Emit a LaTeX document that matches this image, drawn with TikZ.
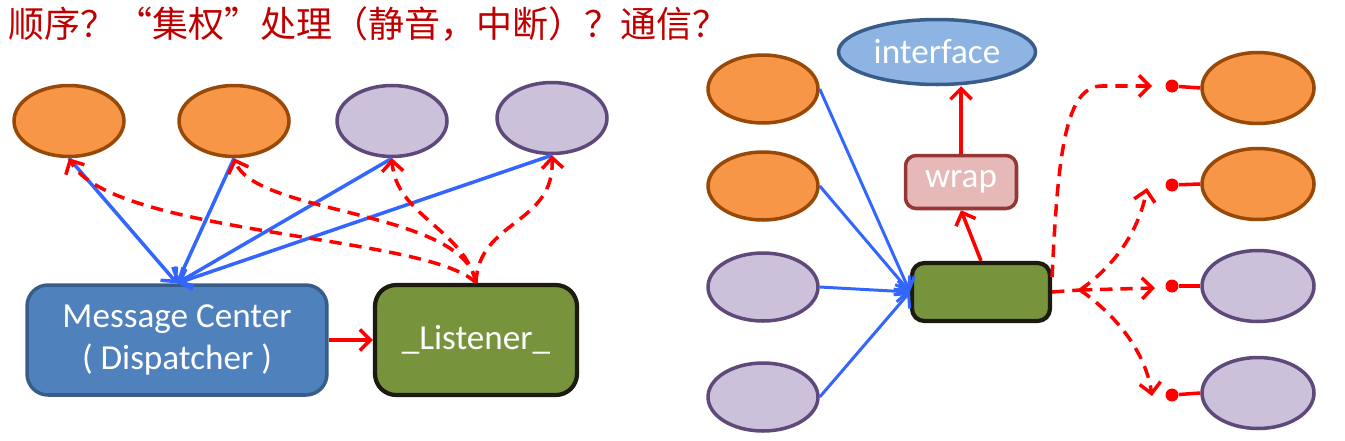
\documentclass[tikz,border=0pt]{standalone}
\usepackage{fontspec}
\setmainfont{Carlito}
\newfontfamily\cjkfont{Noto Sans CJK SC}
\usetikzlibrary{arrows.meta,positioning,shapes.geometric}

\definecolor{orangefill}{HTML}{F79646}
\definecolor{orangedraw}{HTML}{984807}
\definecolor{lilacfill}{HTML}{CCC1DA}
\definecolor{lilacdraw}{HTML}{5F497A}
\definecolor{centerfill}{HTML}{4F81BD}
\definecolor{centerdraw}{HTML}{385D8A}
\definecolor{greenfill}{HTML}{77933C}
\definecolor{greendraw}{HTML}{1D1B10}
\definecolor{wrapfill}{HTML}{E6B9B8}
\definecolor{wrapdraw}{HTML}{953735}
\definecolor{ifacefill}{HTML}{8EB4E3}
\definecolor{linkblue}{HTML}{3366FF}
\definecolor{titlered}{HTML}{C00000}

\begin{document}
\begin{tikzpicture}[
    x=0.02cm, y=-0.02cm,
    every node/.style={font=\fontsize{20}{24}\selectfont, text=white},
    blob/.style={ellipse, draw, line width=2pt, inner sep=0pt,
      minimum width=2.2cm, minimum height=1.42cm},
    orangeblob/.style={blob, fill=orangefill, draw=orangedraw},
    lilacblob/.style={blob, fill=lilacfill, draw=lilacdraw},
    boxnode/.style={rectangle, rounded corners=8pt, line width=2pt, align=center},
    dot/.style={circle, fill=red, inner sep=0pt, minimum size=0.26cm},
    bluearr/.style={-{Straight Barb[length=6pt,width=12pt]}, line width=2pt, linkblue},
    redarr/.style={-{Straight Barb[length=6pt,width=12pt]}, line width=2pt, red},
    dasharr/.style={redarr, dash pattern=on 7pt off 4.5pt},
    redline/.style={line width=2pt, red}
  ]
    \useasboundingbox (0,0) rectangle (1345,440);

    % Title
    \node[anchor=west, text=titlered, font=\cjkfont\fontsize{20.5}{24}\selectfont] (title) at (2,24)
      {顺序？“集权”处理（静音，中断）？通信？};

    % Left: dispatcher
    \node[orangeblob] (e1) at (69,121) {};
    \node[orangeblob] (e2) at (234,121) {};
    \node[lilacblob] (e3) at (392,121) {};
    \node[lilacblob] (e4) at (552,118) {};

    \node[boxnode, fill=centerfill, draw=centerdraw, minimum width=6cm, minimum height=2.2cm,
      rounded corners=12pt] (center) at (177,340) {Message Center\\( Dispatcher )};
    \node[boxnode, fill=greenfill, draw=greendraw, line width=2.4pt, minimum width=4.04cm,
      minimum height=2.2cm, rounded corners=12pt] (listen) at (476,340) {\_Listener\_};

    \foreach \e in {e1,e2,e3,e4}
      \draw[bluearr] (\e.south) -- (center.north);

    \draw[redarr] (center.east) -- (listen.west);

    % Listener callbacks
    \draw[dasharr] (listen.north) .. controls (430,235) and (110,235) .. (e1.south);
    \draw[dasharr] (listen.north) .. controls (465,210) and (255,215) .. (e2.south);
    \draw[dasharr] (listen.north) .. controls (465,230) and (395,215) .. (e3.south);
    \draw[dasharr] (listen.north) .. controls (478,220) and (555,225) .. (e4.south);

    % Right: wrapped interface
    \node[ellipse, draw=centerdraw, fill=ifacefill, line width=2pt, inner sep=0pt,
      minimum width=3.94cm, minimum height=1.3cm] (iface) at (937,52) {interface};
    \node[boxnode, fill=wrapfill, draw=wrapdraw, minimum width=2.22cm, minimum height=1.06cm,
      rounded corners=6pt] (wrap) at (961,182) {wrap};
    \node[boxnode, fill=greenfill, draw=greendraw, line width=2.4pt, minimum width=2.76cm,
      minimum height=1.16cm, rounded corners=7pt] (hub) at (981,292) {};

    \node[orangeblob, minimum height=1.36cm] (l1) at (763,89) {};
    \node[orangeblob, minimum height=1.36cm] (l2) at (763,186) {};
    \node[lilacblob, minimum height=1.36cm] (l3) at (763,287) {};
    \node[lilacblob, minimum height=1.36cm] (l4) at (763,397) {};

    \node[orangeblob, minimum width=2.24cm] (r1) at (1258,88) {};
    \node[orangeblob, minimum width=2.24cm] (r2) at (1258,184) {};
    \node[lilacblob, minimum width=2.24cm] (r3) at (1258,286) {};
    \node[lilacblob, minimum width=2.24cm] (r4) at (1258,393) {};

    \foreach \l in {l1,l2,l3,l4}
      \draw[bluearr, line width=1.7pt] (\l.east) -- (hub.west);

    \draw[redarr] (hub.north) -- (wrap.south);
    \draw[redarr] (wrap.north) -- (wrap.north |- iface.south);

    % Outgoing calls
    \node[dot] (d1) at (1172,86) {};
    \node[dot] (d2) at (1172,185) {};
    \node[dot] (d3) at (1172,286) {};
    \node[dot] (d4) at (1172,395) {};
    \foreach \d/\r in {d1/r1,d2/r2,d3/r3,d4/r4}
      \draw[redline] (\d) -- (\r.west);

    \coordinate (fan) at (1080,290);
    \coordinate (t1) at (1152,86);
    \coordinate (t2) at (1147,188);
    \coordinate (t3) at (1155,288);
    \coordinate (t4) at (1152,396);

    \draw[redline, dash pattern=on 7pt off 4.5pt] (hub.east) -- (fan);
    \draw[dasharr] ([yshift=0.3cm]hub.east) .. controls (1058,150) and (1066,86) .. (1102,86) -- (t1);
    \draw[dasharr] (fan) .. controls (1120,262) and (1140,225) .. (t2);
    \draw[dasharr] (fan) -- (t3);
    \draw[dasharr] (fan) .. controls (1120,318) and (1146,355) .. (t4);

  \end{tikzpicture}
\end{document}
